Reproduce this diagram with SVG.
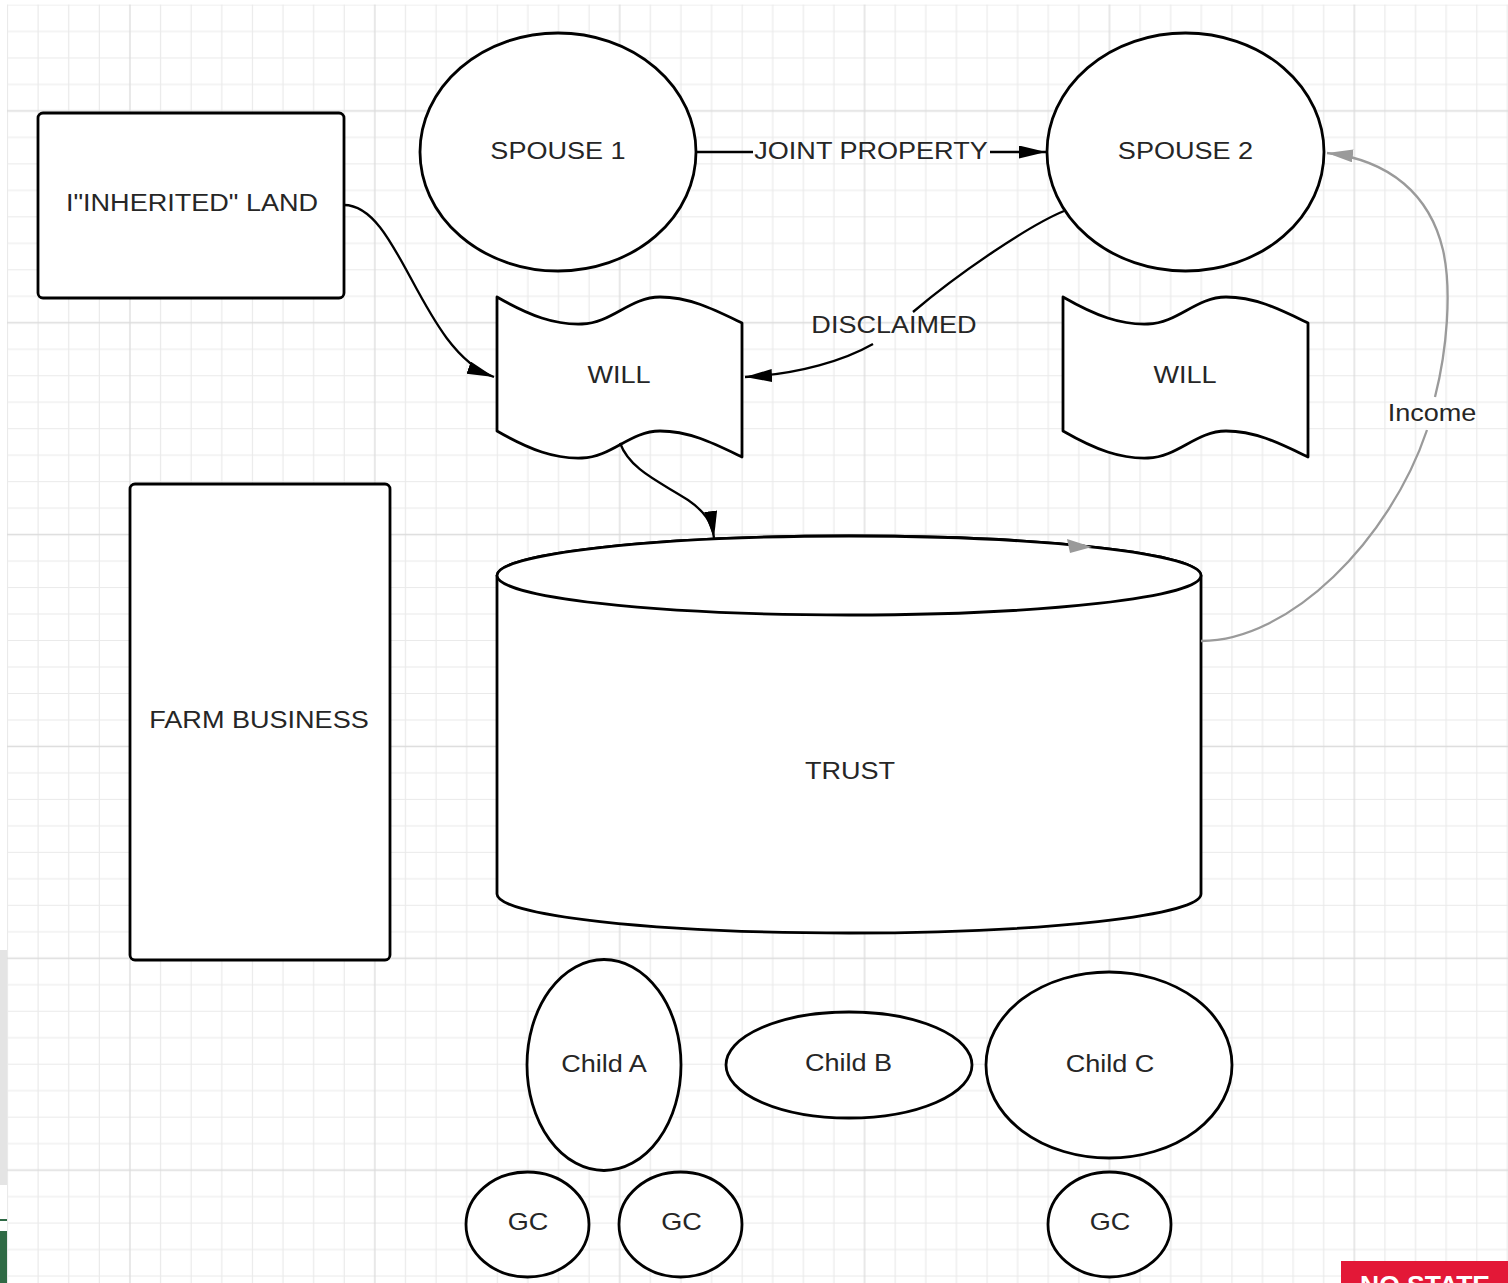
<svg xmlns="http://www.w3.org/2000/svg" width="1508" height="1283" viewBox="0 0 1508 1283">
  <style>
    .shape{fill:#fff;stroke:#000;stroke-width:2.8;stroke-linejoin:round}
    .lbl{font-family:"Liberation Sans",Arial,Helvetica,sans-serif;font-size:24.6px;fill:#262626;text-anchor:middle}
    .edge{fill:none;stroke:#000;stroke-width:2.3}
    .edge.gray{stroke:#9a9a9a}
    .grid-minor{stroke:#eaeaea;stroke-width:1.2;fill:none}
    .grid-major{stroke:#dcdcdc;stroke-width:1.3;fill:none}
  </style>
  <defs>
    <!-- canvas grid: 8x8 minor cells per tile, one heavier line per tile in each direction -->
    <pattern id="grid" patternUnits="userSpaceOnUse" x="7" y="4.5" width="244.88" height="211.84">
      <path class="grid-minor" d="M0.5,0V211.84M31.11,0V211.84M61.72,0V211.84M92.33,0V211.84M153.55,0V211.84M184.16,0V211.84M214.77,0V211.84M0,0.5H244.88M0,26.98H244.88M0,53.46H244.88M0,79.94H244.88M0,132.9H244.88M0,159.38H244.88M0,185.86H244.88"/>
      <path class="grid-major" d="M122.94,0V211.84M0,106.42H244.88"/>
    </pattern>
    <marker id="arrow" markerUnits="userSpaceOnUse" markerWidth="28" markerHeight="14" refX="27" refY="6.5" orient="auto">
      <path d="M0,0L27,6.5L0,13Z" fill="#000"/>
    </marker>
    <marker id="arrow-gray" markerUnits="userSpaceOnUse" markerWidth="28" markerHeight="14" refX="26" refY="6.5" orient="auto">
      <path d="M0,0L26,6.5L0,13Z" fill="#9a9a9a"/>
    </marker>
    <!-- wavy document outline used by both WILL nodes -->
    <path id="will-shape" d="M497,297C530,316 555,325 582,324C612,323 630,297 660,297C690,297 715,310 742,323L742,457C715,444 690,431 660,431C630,431 612,457 582,458C555,459 530,450 497,431Z"/>
  </defs>

  <rect width="1508" height="1283" fill="#fff"/>
  <rect x="7" y="4.5" width="1501" height="1278.5" fill="url(#grid)"/>

  <!-- window edge strips -->
  <rect x="0" y="950" width="7" height="235" fill="#e4e4e4"/>
  <rect x="0" y="1219" width="7" height="2" fill="#2f6a45"/>
  <rect x="0" y="1231" width="7" height="52" fill="#2f6a45"/>

  <g id="node-inherited-land">
    <rect class="shape" x="38" y="113" width="306" height="185" rx="5"/>
    <text class="lbl" transform="translate(192,211) scale(1.1,1)">I"INHERITED" LAND</text>
  </g>

  <g id="node-spouse1">
    <ellipse class="shape" cx="558" cy="152" rx="138" ry="119"/>
    <text class="lbl" transform="translate(558,159) scale(1.1,1)">SPOUSE 1</text>
  </g>

  <g id="node-spouse2">
    <ellipse class="shape" cx="1185.5" cy="152" rx="138.5" ry="119"/>
    <text class="lbl" transform="translate(1185.5,159) scale(1.1,1)">SPOUSE 2</text>
  </g>

  <g id="node-will1">
    <use href="#will-shape" class="shape"/>
    <text class="lbl" transform="translate(619,383) scale(1.1,1)">WILL</text>
  </g>

  <g id="node-will2">
    <use href="#will-shape" class="shape" x="566"/>
    <text class="lbl" transform="translate(1185,383) scale(1.1,1)">WILL</text>
  </g>

  <g id="node-farm-business">
    <rect class="shape" x="130" y="484" width="260" height="476" rx="5"/>
    <text class="lbl" transform="translate(259,728) scale(1.1,1)">FARM BUSINESS</text>
  </g>

  <g id="node-trust">
    <path class="shape" d="M497,575.5L497,894A352,39 0 0 0 1201,894L1201,575.5A352,39.5 0 0 0 497,575.5Z"/>
    <ellipse class="shape" cx="849" cy="575.5" rx="352" ry="39.5"/>
    <text class="lbl" transform="translate(850,779) scale(1.1,1)">TRUST</text>
  </g>

  <g id="node-child-a">
    <ellipse class="shape" cx="604" cy="1065" rx="77" ry="105.5"/>
    <text class="lbl" transform="translate(604,1072) scale(1.1,1)">Child A</text>
  </g>

  <g id="node-child-b">
    <ellipse class="shape" cx="849" cy="1065" rx="123" ry="53"/>
    <text class="lbl" transform="translate(848.5,1071) scale(1.1,1)">Child B</text>
  </g>

  <g id="node-child-c">
    <ellipse class="shape" cx="1109" cy="1065" rx="123" ry="93"/>
    <text class="lbl" transform="translate(1110,1072) scale(1.1,1)">Child C</text>
  </g>

  <g id="node-gc1">
    <ellipse class="shape" cx="527.5" cy="1224.5" rx="61.5" ry="52.5"/>
    <text class="lbl" transform="translate(528,1230) scale(1.1,1)">GC</text>
  </g>

  <g id="node-gc2">
    <ellipse class="shape" cx="680.5" cy="1224.5" rx="61.5" ry="52.5"/>
    <text class="lbl" transform="translate(681.5,1230) scale(1.1,1)">GC</text>
  </g>

  <g id="node-gc3">
    <ellipse class="shape" cx="1109.5" cy="1224.5" rx="61.5" ry="52.5"/>
    <text class="lbl" transform="translate(1110,1230) scale(1.1,1)">GC</text>
  </g>

  <g id="connectors">
    <!-- spouse 1 -> spouse 2 -->
    <path class="edge" d="M696,152H753"/>
    <path class="edge" d="M990,152H1046" marker-end="url(#arrow)"/>
    <text class="lbl" transform="translate(871,159) scale(1.1,1)">JOINT PROPERTY</text>

    <!-- inherited land -> will -->
    <path class="edge" d="M344,205C400,205 420,350 494,377" marker-end="url(#arrow)"/>

    <!-- spouse 2 -> will (disclaimed) -->
    <path class="edge" d="M1064,211C1030,225 960,272 913,312"/>
    <path class="edge" d="M873,344C845,360 800,374 745,377" marker-end="url(#arrow)"/>
    <text class="lbl" transform="translate(894,333) scale(1.1,1)">DISCLAIMED</text>

    <!-- will -> trust -->
    <path class="edge" d="M620,443C630,470 660,482 688,500C704,511 712,522 714,538" marker-end="url(#arrow)"/>

    <!-- trust -> spouse 2 (income) -->
    <path class="edge gray" d="M1201,641C1290,641 1390,540 1427,430"/>
    <path class="edge gray" d="M1435,397C1447,350 1452,290 1443,250C1430,195 1390,160 1327,153" marker-end="url(#arrow-gray)"/>
    <text class="lbl" transform="translate(1432,421) scale(1.1,1)">Income</text>

    <!-- stray arrowhead on the trust rim -->
    <path d="M1067,539L1092,547L1070,553Z" fill="#9a9a9a"/>
  </g>

  <!-- corner banner -->
  <rect x="1341" y="1261" width="167" height="22" fill="#e31837"/>
  <text x="1360" y="1294" font-family="'Liberation Sans',Arial,sans-serif" font-weight="bold" font-size="26.5" fill="#fff">NO STATE</text>
</svg>
